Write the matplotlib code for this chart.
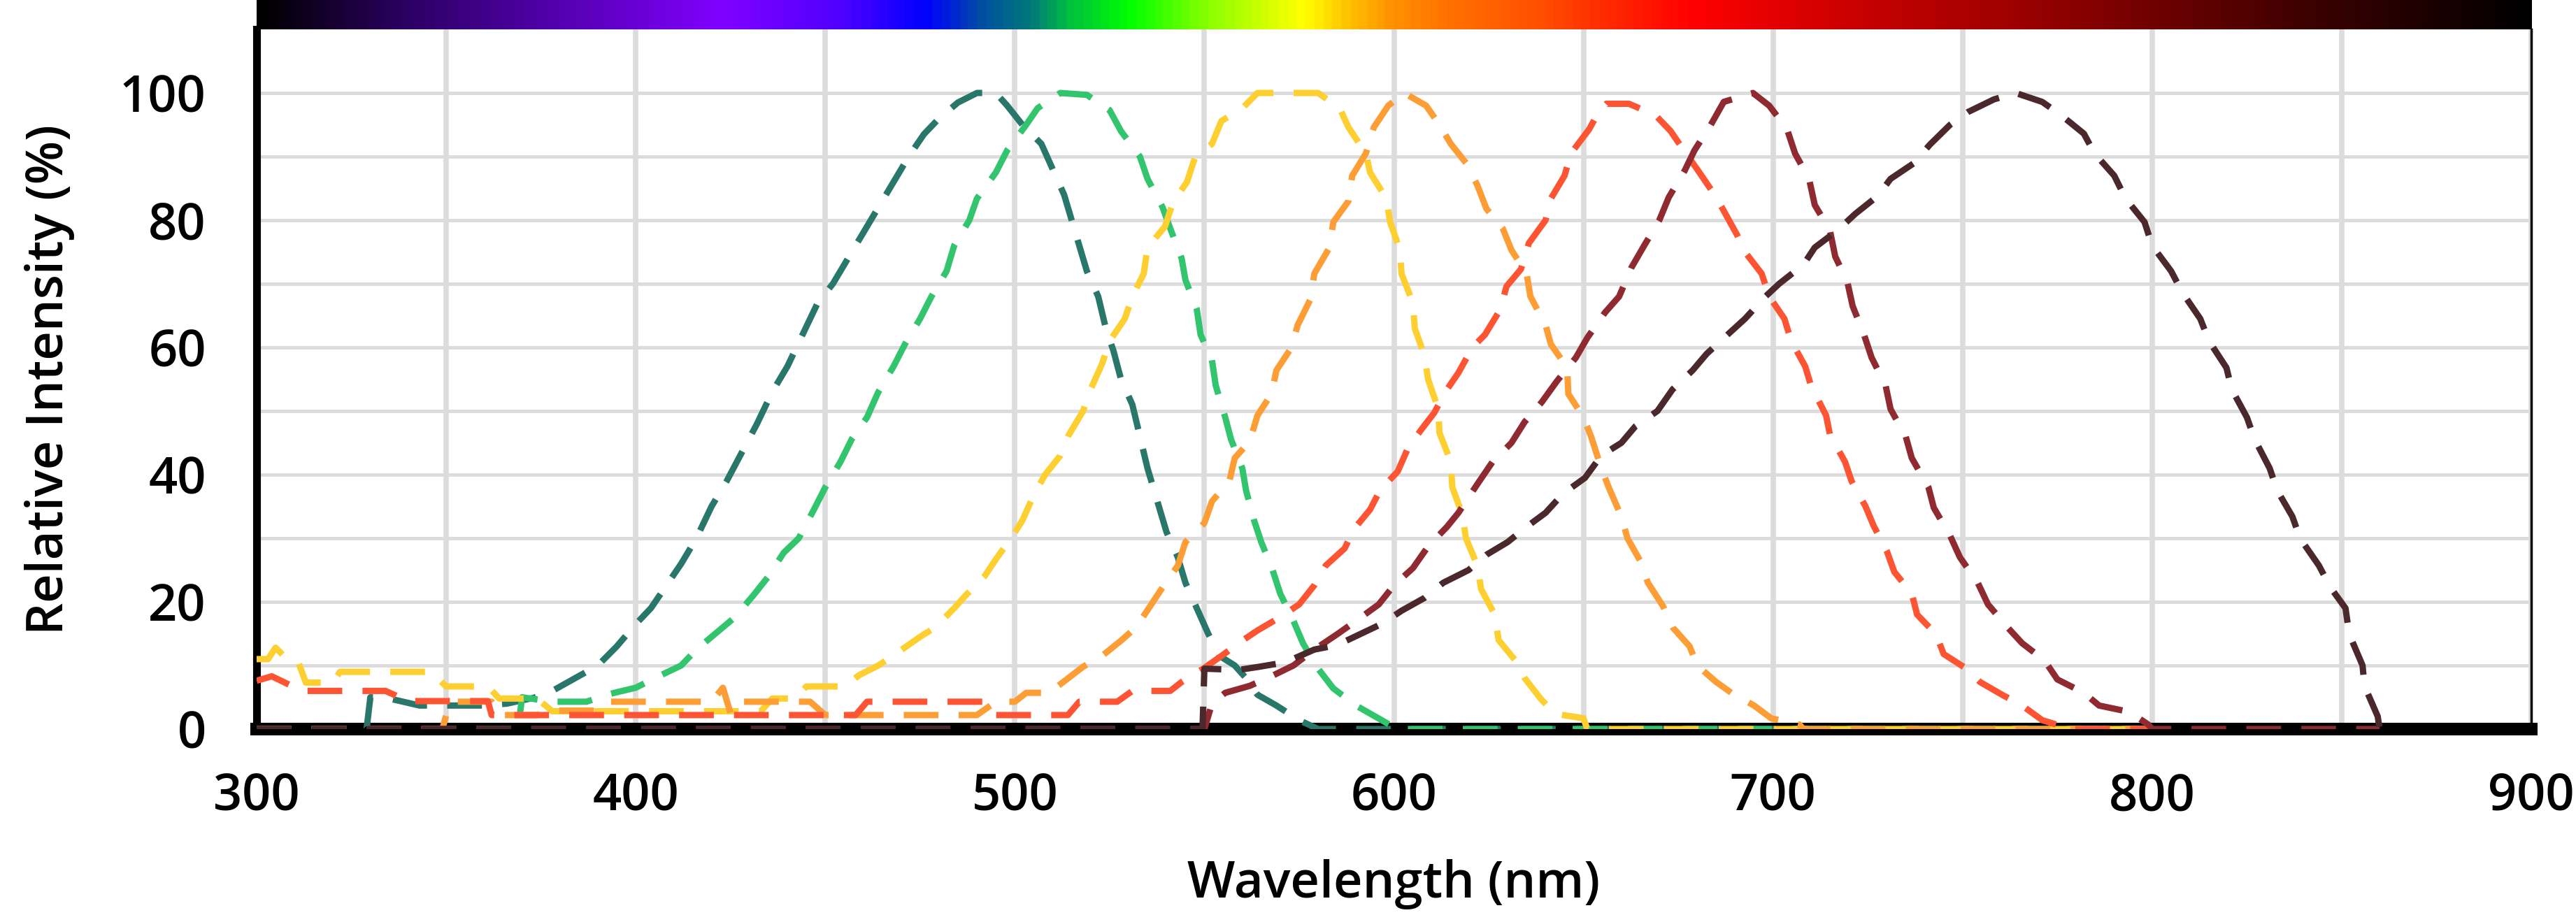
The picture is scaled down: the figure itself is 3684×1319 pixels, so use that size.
import numpy as np
import matplotlib.pyplot as plt
from matplotlib.colors import LinearSegmentedColormap

plt.rcParams['font.family'] = ['Open Sans', 'DejaVu Sans']
plt.rcParams['font.weight'] = 'semibold'
plt.rcParams['axes.labelweight'] = 'semibold'

# ---- datos (longitud de onda nm, intensidad %) ----
teal_x = [300, 329, 330, 335, 343, 360, 366, 373, 378, 384, 390, 395, 400, 404, 408, 412, 416, 420,
          424, 428, 432, 436, 440, 444, 448, 452, 456, 460, 464, 468, 472, 476, 480, 485, 490, 495,
          498, 502, 507, 510, 513, 515, 517, 519, 522, 524, 526, 528, 531, 533, 535, 537, 540, 543,
          545, 548, 551, 554, 558, 561, 564, 569, 575, 580, 800]
teal_y = [0, 0, 5, 4.8, 3.7, 3.7, 4, 4.9, 6, 8, 10, 13, 16.5, 19, 22.5, 26, 30, 35,
          39, 43.5, 48, 53, 57, 62, 67, 70, 74, 78, 82, 86, 90, 93.5, 96, 98.5, 100, 100,
          98, 95, 92, 88, 84, 80, 76, 72, 68, 63, 59.5, 55, 51, 46, 41, 37, 31, 27,
          23, 19, 15, 11.5, 10, 8, 5.4, 3.7, 1.4, 0, 0]

green_x = [300, 369, 370, 378, 387, 393, 400, 405, 412, 416, 421, 426, 431, 435, 439, 443, 447, 450,
           454, 457, 461, 464, 468, 471, 475, 478, 482, 484, 488, 490, 495, 498, 503, 506, 512, 519,
           525, 528, 533, 535, 539, 541, 544, 545, 548, 549, 552, 553, 555.5, 557, 560, 561, 563,
           565, 568, 570, 573.5, 576, 580, 584, 590, 595, 600, 602, 800]
green_y = [0, 0, 5, 4.3, 4.3, 5.5, 6.5, 8, 10, 12.5, 15, 17.5, 21, 24, 27.7, 30, 34.5, 38,
           42, 45.6, 49, 53, 57, 60.5, 64.5, 68, 72, 76, 80, 83.4, 87.5, 91, 95, 97.6, 100, 99.7,
           97.3, 94, 90, 86.5, 82, 78.7, 74, 70.6, 66, 62, 58, 54, 49, 45.6, 41, 37.5, 33,
           29.4, 25, 21.3, 17, 13.5, 9.5, 6.4, 3.7, 2, 0.3, 0, 0]

yellow_x = [300, 303, 305, 308, 311, 313, 320, 322, 346, 350, 361, 364, 374, 378, 433, 436, 442, 445,
            455, 459, 464, 469, 475, 479, 484, 487, 492, 495, 499, 502, 505, 508, 512, 514, 518,
            520, 523, 525, 529, 531, 534, 535, 539.6, 541.7, 545.4, 547.6, 552, 554.5, 560, 564,
            580, 585.7, 588, 592.6, 593.7, 598, 599, 601.6, 602, 605, 605.5, 608, 609, 611.7, 612,
            615, 615.4, 618, 619, 622, 623, 626.6, 627.6, 632, 634.5, 638.8, 642.5, 650, 651, 800]
yellow_y = [11, 11, 12.8, 11, 10.5, 7.3, 7.3, 9, 9, 6.7, 6.7, 4.8, 4.8, 2.8, 2.8, 4.8, 4.8, 6.7,
            6.7, 8.5, 10, 12, 14.5, 16, 19, 21, 24, 26.7, 30, 32.8, 36.8, 40, 43, 46, 50,
            53.4, 57.4, 61, 64.5, 68, 71.6, 75.7, 79, 82.8, 86, 90, 92, 95.6, 97.6, 100,
            100, 97.6, 94.6, 90.5, 87.5, 83.4, 79.7, 75.3, 71.6, 67, 63, 58.8, 55, 50.3, 46.6,
            42, 38, 33.8, 30, 25.7, 22, 18, 14, 10.8, 8, 4.7, 2.4, 1.7, 0, 0]

orange_x = [300, 349, 350, 352, 362, 364, 374, 378, 389, 392, 420, 423, 425, 427, 446, 450, 490, 495,
            500, 503, 509, 513, 518, 523, 528, 532, 536, 539, 543, 545, 550, 552, 556.6, 558, 562,
            564, 567.7, 569, 573, 574.6, 578, 579, 583, 584, 588, 589, 592.6, 594.7, 598.5, 602.7,
            608.5, 612, 615, 619, 622, 624.4, 628.7, 631, 635, 636, 640, 641.4, 645.7, 646, 650,
            652, 654.7, 656.8, 660, 661.6, 665, 667, 671, 673.5, 678, 680, 685, 689, 695, 699.5,
            707, 708, 800]
orange_y = [0, 0, 2.2, 4.3, 4.3, 2.2, 2.2, 2.9, 2.9, 4.3, 4.3, 6.5, 2.5, 4.3, 4.3, 2.2, 2.2, 4.3,
            4.3, 5.7, 5.7, 7.5, 9.8, 11.5, 13.9, 16, 19.6, 22.3, 25.7, 29.4, 32.4, 35.8, 39, 42.6, 45.3,
            49.3, 52.7, 56.4, 60, 63.5, 67.6, 71.6, 75.7, 79.7, 83, 87, 90.5, 94.6, 98, 100,
            98, 95, 92, 89, 85.5, 81.8, 78.7, 75.3, 71.6, 68, 63.5, 60.5, 56.8, 52.7, 49,
            46, 41, 37.8, 33.4, 30, 26.4, 23, 19.3, 16, 13, 10, 7.4, 5.7, 3.7, 1.7,
            0.7, 0, 0]

red_x = [300, 304, 312, 334, 340, 361, 362, 458, 461, 492, 495, 514, 517, 527, 531, 541, 544, 549.7,
         554.5, 560, 564, 570, 575, 579, 582, 587, 589.4, 593.7, 596.3, 601, 603.8, 607.5, 610.6, 614,
         617, 620.7, 624, 628, 629.7, 633.5, 635.6, 640, 641.4, 645, 646.7, 651.5, 654, 656, 662, 669,
         673, 677, 680, 684, 686.7, 690.5, 692.6, 697, 699, 703, 704.8, 708.5, 710, 714, 715, 719,
         720.7, 724.4, 726.5, 730, 732, 736.6, 738, 743, 745, 751, 754.6, 760.4, 765.7, 771, 777,
         778, 800]
red_y = [7.6, 8.3, 6, 6, 4.4, 4.4, 2.2, 2.2, 4.3, 4.3, 2.2, 2.2, 4.3, 4.3, 6, 6, 7.4, 9.5,
         11.5, 13.9, 15.5, 17.6, 19.6, 22.6, 25.7, 28.4, 31.4, 34.5, 37.5, 40.5, 44.3, 47.3, 49.7, 53.4,
         56, 60, 62, 65.9, 69.6, 72.3, 76.4, 80, 83.4, 87, 90.5, 94.3, 97, 98.3, 98.3, 96.5,
         94, 90.5, 88, 84.5, 81.8, 77.7, 75, 71.6, 68, 64.5, 61, 57, 54, 49.3, 46.3, 42,
         39, 35, 32, 28, 24.7, 21.3, 18, 14.9, 11.8, 9.5, 7.4, 5.4, 3.7, 1.4, 0.3,
         0, 0]

darkred_x = [300, 550, 552, 555.5, 562, 568, 573.5, 579, 585, 590, 596, 600, 605, 609, 614, 617, 622,
             626, 631, 634.5, 639, 643, 648, 651, 655.7, 659.4, 662.6, 666, 670, 672.5, 676.7, 679.3,
             683.6, 687, 694.7, 699, 703.7, 705.8, 709.5, 711, 715, 716.4, 719.6, 721, 724, 726, 729.7,
             731, 735, 736.6, 741, 742.4, 746.7, 749.3, 754, 756.7, 762, 765.7, 771.6, 775, 782, 786,
             794, 799, 800, 860]
darkred_y = [0, 0, 4, 5.7, 6.8, 8.4, 10, 12.5, 14.9, 17, 19.6, 22.6, 25.3, 28.7, 31.8, 34, 38.5,
             42, 45, 48.3, 51.4, 54.7, 58.4, 61.5, 65.5, 68, 72.5, 76, 80, 83.6, 87.8, 91,
             95, 98.6, 100, 98, 94.3, 90.5, 86.5, 82.4, 78.4, 74.3, 70.3, 66.5, 62, 58.4, 54,
             50.3, 46, 42.6, 38, 34.8, 30.4, 27, 23, 19.6, 15.9, 13.5, 10.8, 7.8, 5.7, 3.7,
             2.7, 0.7, 0, 0]

brown_x = [300, 549.5, 550, 559, 564.5, 571.4, 579, 585, 591, 597, 602, 608, 613, 619.7, 624.4, 630,
           635, 640, 644.6, 650.4, 654.7, 660, 663.7, 669.5, 673.5, 678.8, 682.5, 688, 692.6, 698,
           701.6, 708, 711, 717, 721.7, 727.6, 731, 737, 741.4, 746.7, 751.4, 758.3, 764, 771, 775.8,
           782, 784.8, 790, 793, 798, 800, 805, 808, 812.7, 815, 819.6, 821, 825, 827, 831, 833, 837,
           839, 844, 847, 851, 852, 855.5, 856, 859.5, 860]
brown_y = [0, 0, 9.5, 9.3, 9.8, 10.5, 12.5, 13.2, 14.9, 16.6, 18.6, 20.6, 23, 25, 27.4, 29.4,
           31.8, 34, 37, 39.5, 43, 45, 47.6, 50, 53.4, 56.4, 59, 62, 64.5, 68,
           70, 73, 75.7, 78.4, 81, 83.8, 86.5, 88.9, 91.9, 95, 97, 99, 100, 98.6, 96.6,
           93.6, 90.5, 87, 83.4, 79.7, 76, 72, 68.6, 64.5, 61, 56.8, 53.4, 49, 45.6, 41, 37.5, 33.4,
           30, 25.7, 22.3, 19, 14.9, 10, 6.8, 2, 0]

series = [
    (teal_x, teal_y, '#28776a'),
    (green_x, green_y, '#33c46e'),
    (yellow_x, yellow_y, '#fdcf30'),
    (orange_x, orange_y, '#fd9d35'),
    (red_x, red_y, '#fd5533'),
    (darkred_x, darkred_y, '#8f2a30'),
    (brown_x, brown_y, '#4b282c'),
]

# colores de la barra del espectro
spec_nm = [300, 337, 375, 422, 453, 476, 491, 504, 514, 530, 549, 569, 576, 588, 600, 615, 638, 661,
           679, 723, 762, 801, 839, 870, 900]
spec_col = ['#000000', '#2a0060', '#5000a8', '#8000ff', '#5000ff', '#0000ff', '#0050a0', '#007a78',
            '#00c040', '#00ff00', '#80ff00', '#e0ff00', '#ffff00', '#ffc000', '#ff9000', '#ff7000',
            '#ff5000', '#ff2000', '#ff0000', '#c80000', '#a00000', '#700000', '#400000', '#200000',
            '#000000']

W, H = 3684, 1319
fig = plt.figure(figsize=(W / 100, H / 100), dpi=100)
ax = fig.add_axes([367 / W, 1 - 1043 / H, (3620 - 367) / W, (1043 - 42) / H])
bar = fig.add_axes([367 / W, 1 - 42 / H, (3620 - 367) / W, 42 / H])

# barra espectral
pos = [(v - 300) / 600 for v in spec_nm]
cmap = LinearSegmentedColormap.from_list('espectro', list(zip(pos, spec_col)))
grad = np.linspace(0, 1, 1200).reshape(1, -1)
bar.imshow(grad, aspect='auto', cmap=cmap, extent=[300, 900, 0, 1])
bar.set_axis_off()

# curvas
for x, y, c in series:
    ax.plot(x, y, color=c, lw=6.5, linestyle=(0, (5.5, 3.2)), dash_capstyle='butt', zorder=3)

ax.set_xlim(300, 900)
ax.set_ylim(0, 110)
ax.set_xticks([300, 400, 500, 600, 700, 800, 900])
ax.set_xticks(np.arange(350, 900, 100), minor=True)
ax.set_yticks([0, 20, 40, 60, 80, 100])
ax.set_yticks(np.arange(10, 110, 20), minor=True)
ax.grid(True, which='both', axis='x', color='#dcdcdc', lw=5.5, zorder=0)
ax.grid(True, which='both', axis='y', color='#dcdcdc', lw=3.5, zorder=0)
ax.set_axisbelow(True)
ax.tick_params(which='both', length=0, labelsize=52)
ax.tick_params(axis='y', pad=52)
ax.tick_params(axis='x', pad=44)

ax.spines['top'].set_visible(False)
ax.spines['left'].set_linewidth(8)
ax.spines['bottom'].set_linewidth(13)
ax.spines['right'].set_linewidth(2.5)
for s in ax.spines.values():
    s.set_color('black')

ax.set_xlabel('Wavelength (nm)', fontsize=52, labelpad=38)
ax.set_ylabel('Relative Intensity (%)', fontsize=52, labelpad=46)

fig.savefig('out.png', dpi=100)
